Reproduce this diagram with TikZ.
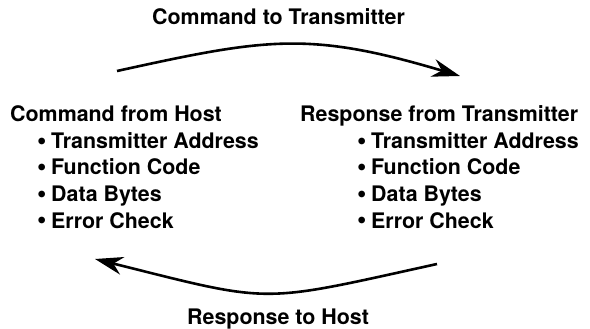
\documentclass[tikz,border=0pt]{standalone}
\usepackage{fontspec}
\usepackage{graphicx}
\setmainfont{TeX Gyre Heros}
\usetikzlibrary{arrows.meta}
\begin{document}
\begin{tikzpicture}[x=1pt,y=-1pt,
  txt/.style={anchor=base west, inner sep=0pt, font=\fontsize{21.4}{21.4}\selectfont\bfseries},
  itm/.style={txt},
  arr/.style={line width=2.6pt, -{Stealth[length=28pt,width=18pt,inset=9pt]}}]
\useasboundingbox (0,0) rectangle (590,329);
\newcommand{\blt}{\makebox[14pt][l]{\raisebox{-0.6pt}{\scalebox{1.25}{\textbullet}}}}
% labels
\node[txt] (top) at (152,25) {Command to Transmitter};
\node[txt] (bot) at (187,324) {Response to Host};
% left column
\node[txt] (lh) at (10,122) {Command from Host};
\node[itm] (l1) at (37,148.5) {\blt Transmitter Address};
\node[itm] (l2) at (37,175) {\blt Function Code};
\node[itm] (l3) at (37,201.5) {\blt Data Bytes};
\node[itm] (l4) at (37,228) {\blt Error Check};
% right column
\node[txt] (rh) at (300,122) {Response from Transmitter};
\node[itm] (r1) at (357,148.5) {\blt Transmitter Address};
\node[itm] (r2) at (357,175) {\blt Function Code};
\node[itm] (r3) at (357,201.5) {\blt Data Bytes};
\node[itm] (r4) at (357,228) {\blt Error Check};
% arrows
\coordinate (ts) at (117,71);
\coordinate (te) at (460,76);
\coordinate (bs) at (437,264);
\coordinate (be) at (95,259);
\draw[arr] (ts) .. controls (267,38) and (309,31) .. (te);
\draw[arr] (bs) .. controls (257,303.6) and (275,304) .. (be);
\end{tikzpicture}
\end{document}
